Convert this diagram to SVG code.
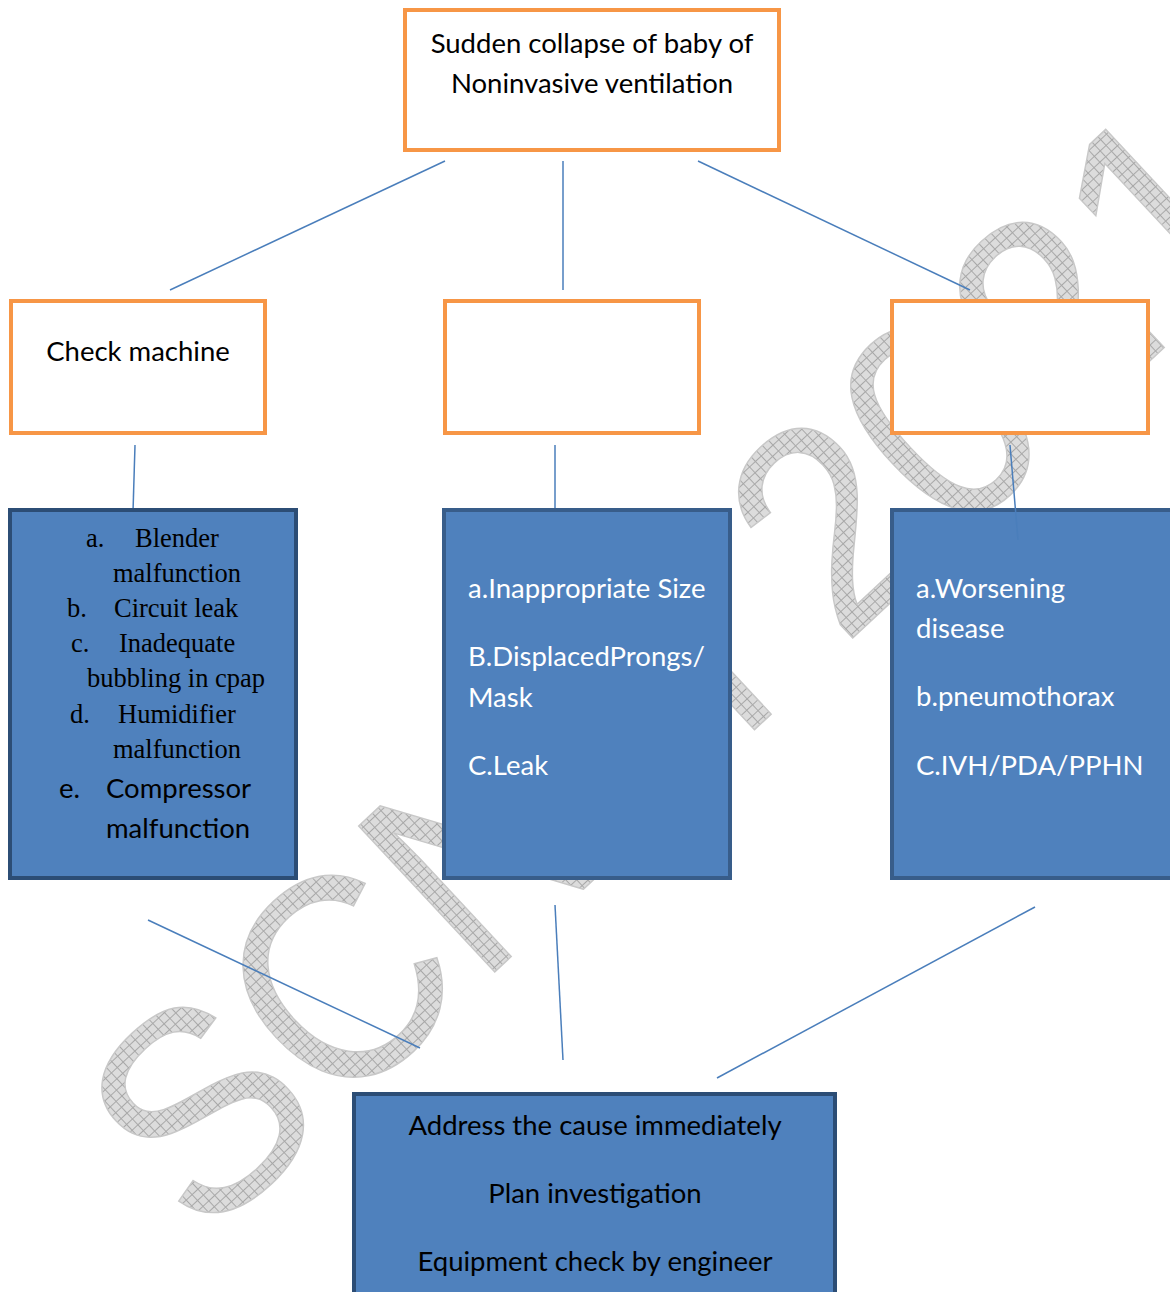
<svg xmlns="http://www.w3.org/2000/svg" width="1170" height="1292" viewBox="0 0 1170 1292">
<defs>
<pattern id="hatch" width="8" height="8" patternUnits="userSpaceOnUse">
<rect width="8" height="8" fill="#dcdcdc"/>
<path d="M0 0.5H8M0.5 0V8" stroke="#a8a8a8" stroke-width="1"/>
</pattern>
<style>
.orange{fill:#fff;stroke:#f79646;stroke-width:4}
.blue{fill:#4f81bd;stroke:#2c4d75;stroke-width:4}
.blue2{fill:#4f81bd;stroke:#385d8a;stroke-width:4}
.conn{stroke:#4a7ebb;stroke-width:1.5;fill:none}
.cal{font-family:Lato,"Open Sans",sans-serif;font-size:27.5px}
.tms{font-family:"Liberation Serif",serif;font-size:26.5px;fill:#000}
.blk{fill:#000}
.wht{fill:#fff}
.wm{font-family:"Liberation Sans",sans-serif;font-size:290px;fill:url(#hatch);stroke:#c8c8c8;stroke-width:1.5}
</style>
</defs>
<rect width="1170" height="1292" fill="#fff"/>
<g id="watermark">
<text class="wm" transform="translate(200,1110) rotate(-43)" x="-90" y="100" textLength="1480" lengthAdjust="spacingAndGlyphs">SCNM 2021</text>
</g>
<g id="connectors">
<line class="conn" x1="445" y1="161" x2="170" y2="290"/>
<line class="conn" x1="563" y1="161" x2="563" y2="290"/>
<line class="conn" x1="698" y1="161" x2="970" y2="290"/>
<line class="conn" x1="135" y1="445" x2="133" y2="512"/>
<line class="conn" x1="555" y1="445" x2="555" y2="512"/>
<line class="conn" x1="148" y1="920" x2="420" y2="1048"/>
<line class="conn" x1="555" y1="905" x2="563" y2="1060"/>
<line class="conn" x1="1035" y1="907" x2="717" y2="1078"/>
</g>
<g id="top">
<rect class="orange" x="405" y="10" width="374" height="140"/>
<text class="cal blk" x="592" y="53" text-anchor="middle">Sudden collapse of baby of</text>
<text class="cal blk" x="592" y="93" text-anchor="middle">Noninvasive ventilation</text>
</g>
<g id="check-machine">
<rect class="orange" x="11" y="301" width="254" height="132"/>
<text class="cal blk" x="138" y="361" text-anchor="middle">Check machine</text>
</g>
<g id="mid-empty">
<rect class="orange" x="445" y="301" width="254" height="132"/>
</g>
<g id="right-empty">
<rect class="orange" x="892" y="301" width="256" height="132"/>
</g>
<g id="machine-list">
<rect class="blue" x="10" y="510" width="286" height="368"/>
<g class="tms">
<text x="86" y="547">a.</text><text x="135" y="547">Blender</text>
<text x="113" y="582">malfunction</text>
<text x="67" y="617">b.</text><text x="114" y="617">Circuit leak</text>
<text x="71" y="652">c.</text><text x="119" y="652">Inadequate</text>
<text x="87" y="687">bubbling in cpap</text>
<text x="70" y="723">d.</text><text x="118" y="723">Humidifier</text>
<text x="113" y="758">malfunction</text>
</g>
<text class="cal blk" x="59" y="798">e.</text><text class="cal blk" x="106" y="798">Compressor</text>
<text class="cal blk" x="106" y="838">malfunction</text>
</g>
<g id="interface-list">
<rect class="blue2" x="444" y="510" width="286" height="368"/>
<text class="cal wht" x="468" y="598">a.Inappropriate Size</text>
<text class="cal wht" x="468" y="666">B.DisplacedProngs/</text>
<text class="cal wht" x="468" y="707">Mask</text>
<text class="cal wht" x="468" y="775">C.Leak</text>
</g>
<g id="patient-list">
<rect class="blue2" x="892" y="510" width="290" height="368"/>
<text class="cal wht" x="916" y="598">a.Worsening</text>
<text class="cal wht" x="916" y="638">disease</text>
<text class="cal wht" x="916" y="706">b.pneumothorax</text>
<text class="cal wht" x="916" y="775">C.IVH/PDA/PPHN</text>
</g>
<line class="conn" x1="1010" y1="445" x2="1018" y2="540"/>
<g id="action">
<rect class="blue" x="354" y="1094" width="481" height="210"/>
<text class="cal blk" x="595" y="1135" text-anchor="middle">Address the cause immediately</text>
<text class="cal blk" x="595" y="1203" text-anchor="middle">Plan investigation</text>
<text class="cal blk" x="595" y="1271" text-anchor="middle">Equipment check by engineer</text>
</g>
</svg>
